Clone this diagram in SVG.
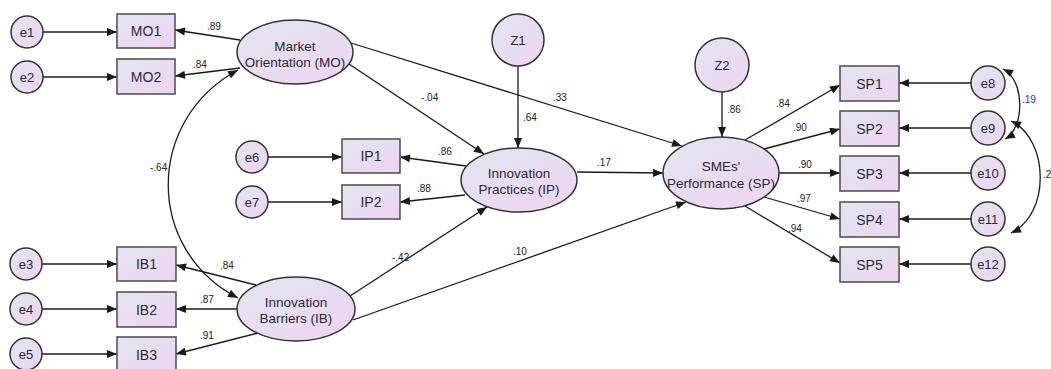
<svg xmlns="http://www.w3.org/2000/svg" width="1051" height="369" viewBox="0 0 1051 369">
<defs>
<linearGradient id="g" x1="0" y1="0" x2="1" y2="1">
<stop offset="0" stop-color="#e2e6ef"/>
<stop offset="1" stop-color="#eed4f2"/>
</linearGradient>
<marker id="a" viewBox="0 0 10 8" refX="10" refY="4" markerWidth="11" markerHeight="8" markerUnits="userSpaceOnUse" orient="auto-start-reverse">
<path d="M0,0 L10,4 L0,8 z" fill="#1a1a1a"/>
</marker>
<style>
.n{fill:url(#g);stroke:#333;stroke-width:1.5}
.r{fill:url(#g);stroke:#555;stroke-width:1.6}
.t{font-family:"Liberation Sans",Arial,sans-serif;font-size:13.5px;fill:#2b2b3a;text-anchor:middle}
.e{font-family:"Liberation Sans",Arial,sans-serif;font-size:13px;fill:#2b2b3a;text-anchor:middle}
.b{font-family:"Liberation Sans",Arial,sans-serif;font-size:14px;fill:#2b2b3a;text-anchor:middle}
.c{font-family:"Liberation Sans",Arial,sans-serif;font-size:10px;fill:#222}
.l{fill:none;stroke:#1a1a1a;stroke-width:1.3;marker-end:url(#a)}
.d{fill:none;stroke:#1a1a1a;stroke-width:1.3;marker-end:url(#a);marker-start:url(#a)}
</style>
</defs>
<rect width="1051" height="369" fill="#ffffff"/>
<g id="connectors">
<line class="l" x1="43" y1="32" x2="117" y2="32"/>
<line class="l" x1="43" y1="77" x2="117" y2="77"/>
<line class="l" x1="42" y1="264" x2="117" y2="264"/>
<line class="l" x1="42" y1="309" x2="117" y2="309"/>
<line class="l" x1="42" y1="354" x2="117" y2="354"/>
<line class="l" x1="268" y1="157" x2="342" y2="157"/>
<line class="l" x1="268" y1="202" x2="342" y2="202"/>
<line class="l" x1="971" y1="83" x2="899" y2="83"/>
<line class="l" x1="971" y1="128" x2="899" y2="128"/>
<line class="l" x1="971" y1="173" x2="899" y2="173"/>
<line class="l" x1="971" y1="219" x2="899" y2="219"/>
<line class="l" x1="971" y1="264" x2="899" y2="264"/>
<line class="l" x1="240" y1="40" x2="175" y2="30"/>
<line class="l" x1="240" y1="68" x2="175" y2="76"/>
<line class="l" x1="349" y1="64" x2="484" y2="154"/>
<line class="l" x1="351" y1="43" x2="682" y2="146"/>
<line class="l" x1="518" y1="66" x2="518" y2="148"/>
<line class="l" x1="466" y1="166" x2="400" y2="157"/>
<line class="l" x1="465" y1="195" x2="400" y2="202"/>
<line class="l" x1="577" y1="172" x2="663" y2="173"/>
<line class="l" x1="350" y1="296" x2="487" y2="207"/>
<line class="l" x1="353" y1="320" x2="686" y2="202"/>
<line class="l" x1="256" y1="285" x2="176" y2="265"/>
<line class="l" x1="237" y1="309" x2="176" y2="309"/>
<line class="l" x1="258" y1="333" x2="176" y2="354"/>
<line class="l" x1="722" y1="92" x2="722" y2="137"/>
<line class="l" x1="745" y1="140" x2="840" y2="85"/>
<line class="l" x1="764" y1="149" x2="840" y2="129"/>
<line class="l" x1="779" y1="173" x2="840" y2="173"/>
<line class="l" x1="764" y1="197" x2="840" y2="219"/>
<line class="l" x1="745" y1="206" x2="840" y2="263"/>
<path class="d" d="M238,70 C145,120 145,250 238,298"/>
<path class="d" d="M1003,69 C1025,80 1025,128 1005,139"/>
<path class="d" d="M1011,121 C1050,140 1050,215 1011,233"/>
<text class="c" x="207" y="30">.89</text>
<text class="c" x="193" y="68">.84</text>
<text class="c" x="150" y="171">-.64</text>
<text class="c" x="421" y="101">-.04</text>
<text class="c" x="553" y="101">.33</text>
<text class="c" x="523" y="121">.64</text>
<text class="c" x="438" y="155">.86</text>
<text class="c" x="417" y="192">.88</text>
<text class="c" x="597" y="166">.17</text>
<text class="c" x="392" y="261">-.42</text>
<text class="c" x="513" y="255">.10</text>
<text class="c" x="220" y="269">.84</text>
<text class="c" x="200" y="303">.87</text>
<text class="c" x="200" y="339">.91</text>
<text class="c" x="727" y="113">.86</text>
<text class="c" x="776" y="107">.84</text>
<text class="c" x="793" y="131">.90</text>
<text class="c" x="798" y="168">.90</text>
<text class="c" x="797" y="202">.97</text>
<text class="c" x="788" y="232">.94</text>
<text class="c" x="1022" y="103" style="fill:#2a2aee">.19</text>
<text class="c" x="1043" y="178">.2</text>
</g>
<g id="e1"><circle class="n" cx="27" cy="32" r="16"/><text class="e" x="27" y="36.5">e1</text></g>
<g id="e2"><circle class="n" cx="27" cy="77" r="16"/><text class="e" x="27" y="81.5">e2</text></g>
<g id="e3"><circle class="n" cx="26" cy="264" r="16"/><text class="e" x="26" y="268.5">e3</text></g>
<g id="e4"><circle class="n" cx="26" cy="309" r="16"/><text class="e" x="26" y="313.5">e4</text></g>
<g id="e5"><circle class="n" cx="26" cy="354" r="16"/><text class="e" x="26" y="358.5">e5</text></g>
<g id="e6"><circle class="n" cx="252" cy="157" r="16"/><text class="e" x="252" y="161.5">e6</text></g>
<g id="e7"><circle class="n" cx="252" cy="202" r="16"/><text class="e" x="252" y="206.5">e7</text></g>
<g id="e8"><circle class="n" cx="988" cy="83" r="17"/><text class="e" x="988" y="87.5">e8</text></g>
<g id="e9"><circle class="n" cx="988" cy="128" r="17"/><text class="e" x="988" y="132.5">e9</text></g>
<g id="e10"><circle class="n" cx="988" cy="173" r="17"/><text class="e" x="988" y="177.5">e10</text></g>
<g id="e11"><circle class="n" cx="988" cy="219" r="17"/><text class="e" x="988" y="223.5">e11</text></g>
<g id="e12"><circle class="n" cx="988" cy="264" r="17"/><text class="e" x="988" y="268.5">e12</text></g>
<g id="Z1"><circle class="n" cx="518" cy="40" r="26"/><text class="e" x="518" y="44.5">Z1</text></g>
<g id="Z2"><circle class="n" cx="722" cy="65" r="27"/><text class="e" x="722" y="69.5">Z2</text></g>
<g id="MO1"><rect class="r" x="117" y="14" width="58" height="34"/><text class="b" x="146" y="36">MO1</text></g>
<g id="MO2"><rect class="r" x="117" y="59" width="58" height="35"/><text class="b" x="146" y="81.5">MO2</text></g>
<g id="IB1"><rect class="r" x="117" y="247" width="59" height="34"/><text class="b" x="146.5" y="269">IB1</text></g>
<g id="IB2"><rect class="r" x="117" y="292" width="59" height="35"/><text class="b" x="146.5" y="314.5">IB2</text></g>
<g id="IB3"><rect class="r" x="117" y="337" width="59" height="35"/><text class="b" x="146.5" y="359.5">IB3</text></g>
<g id="IP1"><rect class="r" x="342" y="139" width="58" height="34"/><text class="b" x="371" y="161">IP1</text></g>
<g id="IP2"><rect class="r" x="342" y="185" width="58" height="34"/><text class="b" x="371" y="207">IP2</text></g>
<g id="SP1"><rect class="r" x="840" y="66" width="59" height="35"/><text class="b" x="869.5" y="88.5">SP1</text></g>
<g id="SP2"><rect class="r" x="840" y="111" width="59" height="35"/><text class="b" x="869.5" y="133.5">SP2</text></g>
<g id="SP3"><rect class="r" x="840" y="156" width="59" height="35"/><text class="b" x="869.5" y="178.5">SP3</text></g>
<g id="SP4"><rect class="r" x="840" y="202" width="59" height="35"/><text class="b" x="869.5" y="224.5">SP4</text></g>
<g id="SP5"><rect class="r" x="840" y="247" width="59" height="35"/><text class="b" x="869.5" y="269.5">SP5</text></g>
<g id="MO"><ellipse class="n" cx="295" cy="52" rx="58" ry="32"/><text class="t" x="295" y="51">Market</text><text class="t" x="295" y="66.5">Orientation (MO)</text></g>
<g id="IB"><ellipse class="n" cx="296" cy="309" rx="59" ry="32"/><text class="t" x="296" y="306.5">Innovation</text><text class="t" x="296" y="322.5">Barriers (IB)</text></g>
<g id="IP"><ellipse class="n" cx="519" cy="180" rx="58" ry="32"/><text class="t" x="519" y="177.5">Innovation</text><text class="t" x="519" y="193.5">Practices (IP)</text></g>
<g id="SP"><ellipse class="n" cx="721" cy="173" rx="58" ry="36"/><text class="t" x="721" y="171">SMEs'</text><text class="t" x="721" y="187.5">Performance (SP)</text></g>
</svg>
